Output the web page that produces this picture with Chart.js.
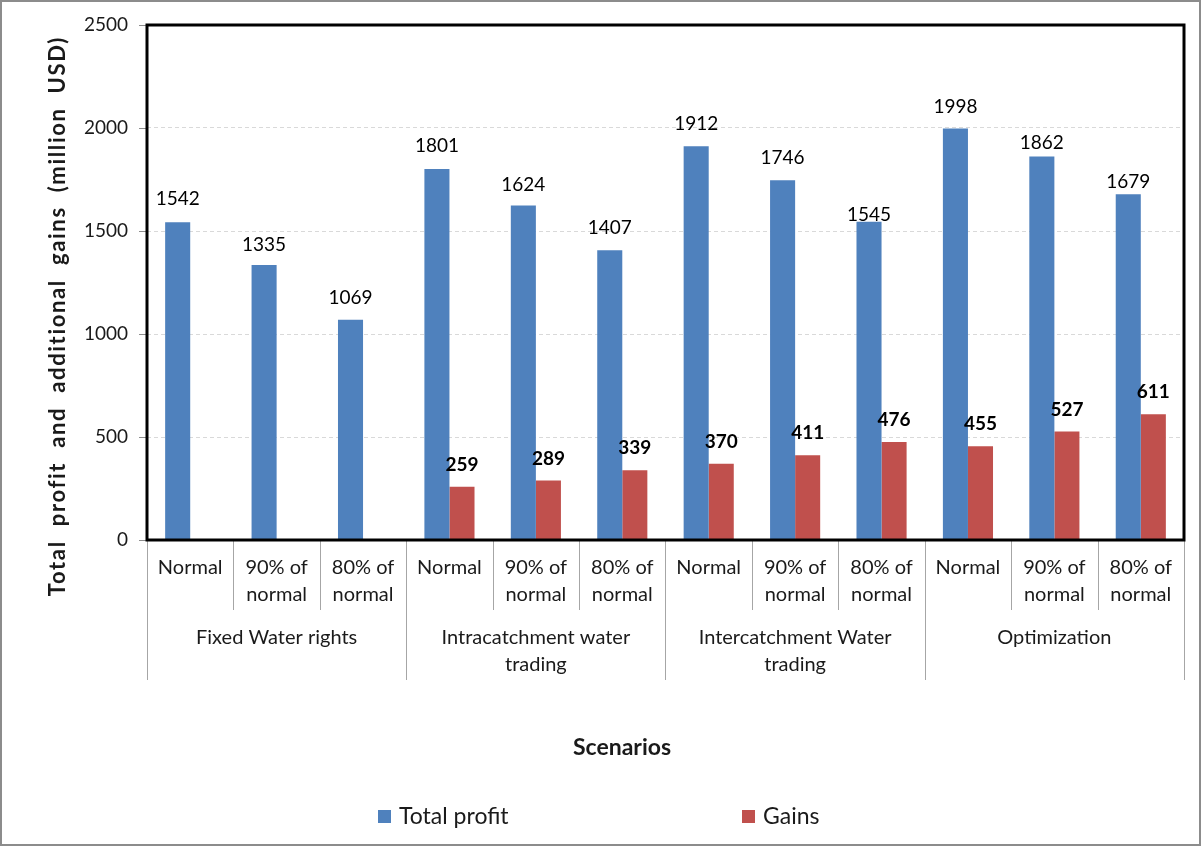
<!DOCTYPE html>
<html>
<head>
<meta charset="utf-8">
<style>
  html, body { margin: 0; padding: 0; background: #fff; }
  canvas { display: block; }
</style>
</head>
<body>
<canvas id="profitChart" width="1201" height="846"></canvas>

<script src="https://cdn.jsdelivr.net/npm/chart.js"></script>
<script>
// scenario groups and the sub-scenarios inside each
const groups = [
  ['Fixed Water rights'],
  ['Intracatchment water', 'trading'],
  ['Intercatchment Water', 'trading'],
  ['Optimization']
];
const subLabels = [
  'Normal', ['90% of', 'normal'], ['80% of', 'normal'],
  'Normal', ['90% of', 'normal'], ['80% of', 'normal'],
  'Normal', ['90% of', 'normal'], ['80% of', 'normal'],
  'Normal', ['90% of', 'normal'], ['80% of', 'normal']
];
const totalProfit = [1542, 1335, 1069, 1801, 1624, 1407, 1912, 1746, 1545, 1998, 1862, 1679];
const gains = [null, null, null, 259, 289, 339, 370, 411, 476, 455, 527, 611];
const yTicks = [0, 500, 1000, 1500, 2000, 2500];

// how far each value label sits above its bar (px), as in the original
const totalLift = [23, 20, 22, 23, 21, 22, 22, 22, 7, 22, 14, 12];
const gainLift = 22;

const FONT = 'Lato';
const TEXT = '#1a1a1a';
const Y_TITLE = 'Total  profit  and  additional  gains  (million  USD)';

const decor = {
  id: 'decor',
  beforeDraw(chart) {
    const ctx = chart.ctx;
    ctx.save();
    ctx.fillStyle = '#fff';
    ctx.fillRect(0, 0, chart.width, chart.height);
    ctx.restore();
  },
  afterDatasetsDraw(chart) {
    const ctx = chart.ctx;
    ctx.save();
    ctx.textAlign = 'center';
    ctx.textBaseline = 'middle';
    ctx.fillStyle = '#000';
    chart.data.datasets.forEach((ds, di) => {
      const meta = chart.getDatasetMeta(di);
      ctx.font = (di === 1 ? 'bold ' : '') + '19px ' + FONT;
      meta.data.forEach((bar, i) => {
        const v = ds.data[i];
        if (v === null) return;
        const lift = di === 0 ? totalLift[i] : gainLift;
        ctx.fillText(String(v), bar.x, bar.y - lift);
      });
    });
    ctx.restore();
  },
  afterDraw(chart) {
    const ctx = chart.ctx;
    const a = chart.chartArea;
    const x = chart.scales.x;
    const y = chart.scales.y;
    const step = (x.getPixelForValue(1) - x.getPixelForValue(0));
    ctx.save();

    // outer frame of the picture
    ctx.strokeStyle = '#8c8c8c';
    ctx.lineWidth = 2;
    ctx.strokeRect(1, 1, chart.width - 2, chart.height - 2);

    // y tick marks
    ctx.strokeStyle = '#8c8c8c';
    ctx.lineWidth = 1;
    yTicks.forEach(t => {
      const py = Math.round(y.getPixelForValue(t)) + 0.5;
      ctx.beginPath();
      ctx.moveTo(a.left - 8, py);
      ctx.lineTo(a.left, py);
      ctx.stroke();
    });

    // category dividers below the axis
    ctx.strokeStyle = '#a6a6a6';
    for (let i = 0; i <= subLabels.length; i++) {
      const px = Math.round(x.getPixelForValue(i) - step / 2) + 0.5;
      const isGroupEdge = i % 3 === 0;
      ctx.beginPath();
      ctx.moveTo(px, a.bottom);
      ctx.lineTo(px, a.bottom + (isGroupEdge ? 140 : 70));
      ctx.stroke();
    }

    // group labels
    ctx.fillStyle = TEXT;
    ctx.font = '20px ' + FONT;
    ctx.textAlign = 'center';
    ctx.textBaseline = 'middle';
    groups.forEach((lines, g) => {
      const cx = (x.getPixelForValue(g * 3) + x.getPixelForValue(g * 3 + 2)) / 2;
      lines.forEach((ln, k) => ctx.fillText(ln, cx, a.bottom + 98 + k * 27));
    });

    // x axis title
    ctx.font = 'bold 23px ' + FONT;
    ctx.fillText('Scenarios', 622, 748);

    // y axis title, spread to the length it has in the original
    ctx.save();
    ctx.translate(58, 317);
    ctx.rotate(-Math.PI / 2);
    ctx.font = 'bold 22px ' + FONT;
    const w = ctx.measureText(Y_TITLE).width;
    const spacing = Math.max(0, (559 - w) / (Y_TITLE.length - 1));
    ctx.letterSpacing = spacing.toFixed(2) + 'px';
    ctx.fillText(Y_TITLE, spacing / 2, 0);
    ctx.restore();

    // plot frame
    ctx.strokeStyle = '#000';
    ctx.lineWidth = 3;
    ctx.strokeRect(a.left, a.top, a.right - a.left, a.bottom - a.top);

    // legend
    const items = [
      { box: 378, text: 399 },
      { box: 742, text: 763 }
    ];
    ctx.font = '23px ' + FONT;
    ctx.textAlign = 'left';
    chart.data.datasets.forEach((ds, di) => {
      const it = items[di];
      ctx.fillStyle = ds.backgroundColor;
      ctx.fillRect(it.box, 810, 13, 13);
      ctx.fillStyle = TEXT;
      ctx.fillText(ds.label, it.text, 817);
    });

    ctx.restore();
  }
};

const ctx = document.getElementById('profitChart').getContext('2d');

new Chart(ctx, {
  type: 'bar',
  data: {
    labels: subLabels,
    datasets: [
      {
        label: 'Total profit',
        data: totalProfit,
        backgroundColor: '#4F81BD',
        categoryPercentage: 0.58,
        barPercentage: 1.0
      },
      {
        label: 'Gains',
        data: gains,
        backgroundColor: '#C0504D',
        categoryPercentage: 0.58,
        barPercentage: 1.0
      }
    ]
  },
  options: {
    responsive: false,
    animation: false,
    layout: { padding: { top: 25, right: 17, left: 0, bottom: 0 } },
    plugins: {
      legend: { display: false },
      tooltip: { enabled: false }
    },
    scales: {
      x: {
        afterFit: scale => { scale.height = 306; },
        grid: { display: false, drawTicks: false },
        border: { display: false },
        ticks: {
          autoSkip: false,
          maxRotation: 0,
          minRotation: 0,
          padding: 14,
          color: TEXT,
          font: { family: FONT, size: 20, lineHeight: 1.35 }
        }
      },
      y: {
        min: 0,
        max: 2500,
        afterFit: scale => { scale.width = 147; },
        // tick marks are drawn by the plugin; keep the space but hide these
        grid: { color: '#d9d9d9', drawTicks: true, tickLength: 8, tickColor: 'rgba(0,0,0,0)' },
        border: { display: false, dash: [4, 3] },
        ticks: {
          stepSize: 500,
          padding: 11,
          color: TEXT,
          font: { family: FONT, size: 19 },
          callback: v => String(v)
        }
      }
    }
  },
  plugins: [decor]
});
</script>
</body>
</html>
